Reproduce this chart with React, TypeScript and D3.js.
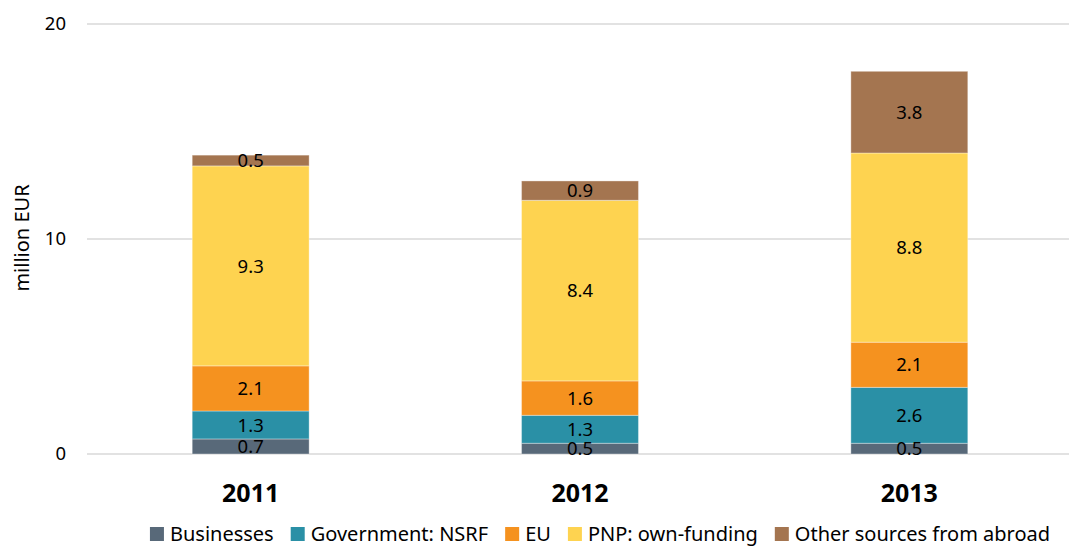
import * as d3 from "d3";
import { useRef, useEffect } from "react";

const years = ["2011", "2012", "2013"];
const seriesNames = [
  "Businesses",
  "Government: NSRF",
  "EU",
  "PNP: own-funding",
  "Other sources from abroad",
];
const businesses = [0.7, 0.5, 0.5];
const government = [1.3, 1.3, 2.6];
const eu = [2.1, 1.6, 2.1];
const pnp = [9.3, 8.4, 8.8];
const other = [0.5, 0.9, 3.8];
const yTicks = [0, 10, 20];
const colors = ["#586979", "#2a90a6", "#f5921f", "#fed350", "#a47550"];

const width = 1069;
const height = 546;
const font = "'Noto Sans', sans-serif";

export default function App() {
  const ref = useRef<SVGSVGElement | null>(null);

  useEffect(() => {
    const svg = d3.select(ref.current!);
    svg.selectAll("*").remove();

    const x = d3.scaleBand(years, [86, 1074]).paddingInner(0.645).paddingOuter(0.3225);
    const y = d3.scaleLinear([0, 20], [454, 24]);

    const rows = years.map((yr, i) => ({
      year: yr,
      s0: businesses[i],
      s1: government[i],
      s2: eu[i],
      s3: pnp[i],
      s4: other[i],
    }));
    const keys = ["s0", "s1", "s2", "s3", "s4"];
    const stacked = d3.stack<any>().keys(keys)(rows);

    // gridlines + ticks
    const g = svg.append("g");
    g.selectAll("line")
      .data(yTicks)
      .join("line")
      .attr("x1", 87)
      .attr("x2", width)
      .attr("y1", (d) => y(d))
      .attr("y2", (d) => y(d))
      .attr("stroke", "#d9d9d9")
      .attr("stroke-width", 1.5);
    g.selectAll("text")
      .data(yTicks)
      .join("text")
      .attr("x", 66)
      .attr("y", (d) => y(d))
      .attr("dy", "0.35em")
      .attr("text-anchor", "end")
      .attr("font-family", font)
      .attr("font-size", 18.5)
      .attr("fill", "#000")
      .text((d) => d);

    svg
      .append("text")
      .attr("transform", `translate(22,${y(10) - 1}) rotate(-90)`)
      .attr("text-anchor", "middle")
      .attr("dy", "0.35em")
      .attr("font-family", font)
      .attr("font-size", 20)
      .text("million EUR");

    // bars
    stacked.forEach((layer, li) => {
      svg
        .append("g")
        .selectAll("rect")
        .data(layer)
        .join("rect")
        .attr("x", (d: any) => x(d.data.year)!)
        .attr("width", x.bandwidth())
        .attr("y", (d) => y(d[1]))
        .attr("height", (d) => y(d[0]) - y(d[1]))
        .attr("fill", colors[li])
        .attr("stroke", "rgba(255,255,255,0.35)")
        .attr("stroke-width", 1);
    });
    // value labels (small segments overlap, as in the original)
    stacked.forEach((layer) => {
      svg
        .append("g")
        .selectAll("text")
        .data(layer)
        .join("text")
        .attr("x", (d: any) => x(d.data.year)! + x.bandwidth() / 2)
        .attr("y", (d) => (y(d[0]) + y(d[1])) / 2)
        .attr("dy", "0.36em")
        .attr("text-anchor", "middle")
        .attr("font-family", font)
        .attr("font-size", 18.5)
        .attr("fill", "#000")
        .text((d) => d3.format(".1f")(d[1] - d[0]));
    });

    // x labels
    svg
      .append("g")
      .selectAll("text")
      .data(years)
      .join("text")
      .attr("x", (d) => x(d)! + x.bandwidth() / 2)
      .attr("y", 493)
      .attr("dy", "0.35em")
      .attr("text-anchor", "middle")
      .attr("font-family", font)
      .attr("font-size", 25)
      .attr("font-weight", "bold")
      .text((d) => d);

    // legend
    const leg = svg.append("g");
    const items = leg
      .selectAll("g")
      .data(seriesNames)
      .join("g");
    items
      .append("rect")
      .attr("width", 14)
      .attr("height", 14)
      .attr("y", -14)
      .attr("fill", (_, i) => colors[i]);
    items
      .append("text")
      .attr("x", 20)
      .attr("font-family", font)
      .attr("font-size", 20)
      .text((d) => d);
    let cx = 0;
    const offsets: number[] = [];
    items.each(function () {
      offsets.push(cx);
      const t = d3.select(this).select("text").node() as SVGTextElement;
      cx += 20 + t.getComputedTextLength() + 17;
    });
    const total = cx - 17;
    items.attr("transform", (_, i) => `translate(${offsets[i]},0)`);
    leg.attr("transform", `translate(${600 - total / 2},541)`);
  }, []);

  return (
    <svg
      ref={ref}
      width={width}
      height={height}
      style={{ position: "absolute", left: 0, top: 0, background: "#fff" }}
    />
  );
}
